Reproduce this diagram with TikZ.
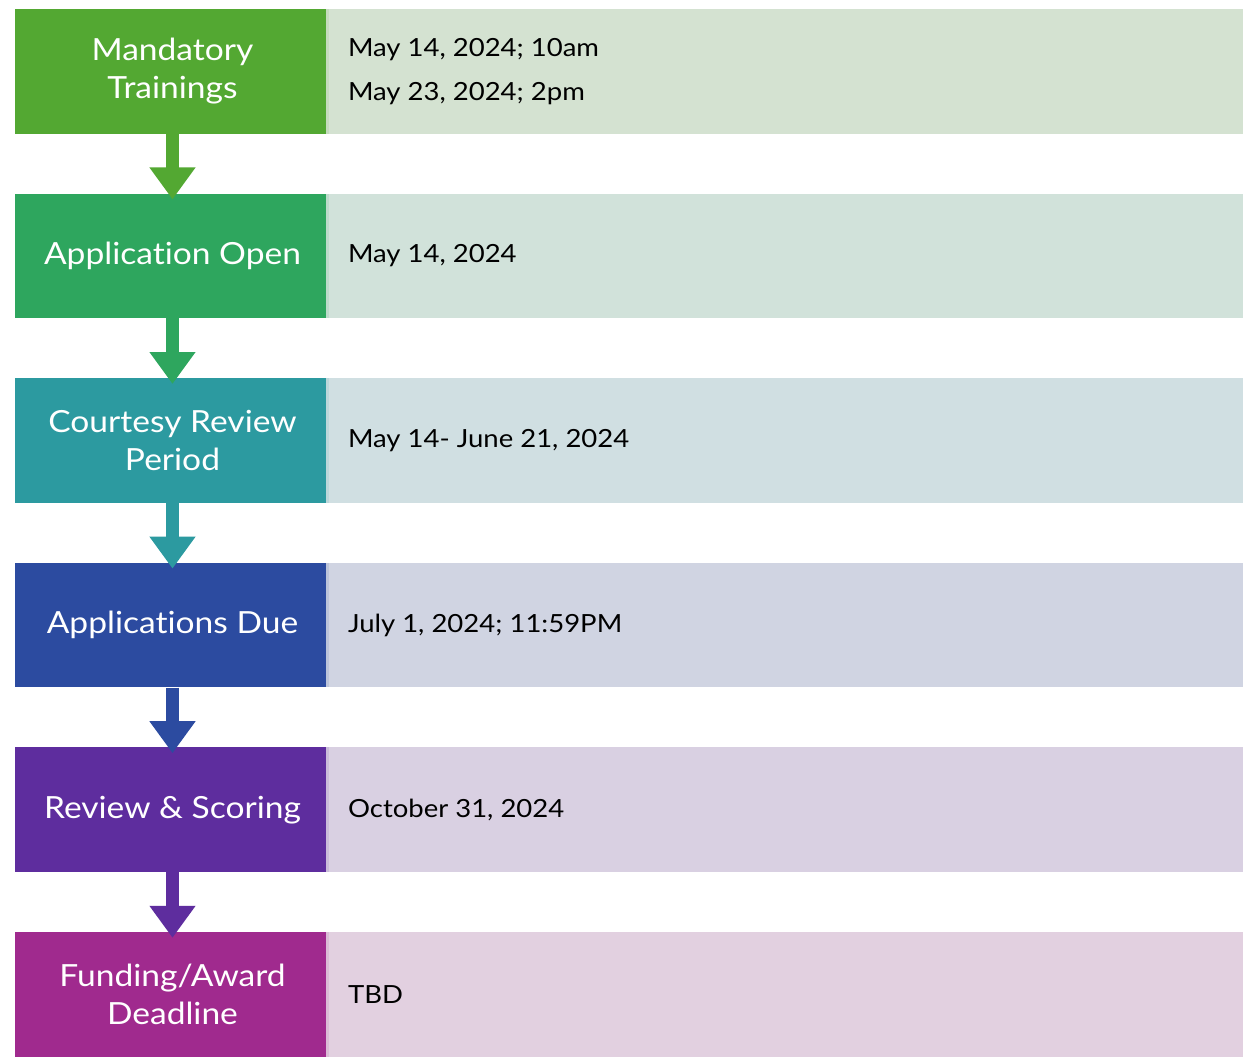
\documentclass[tikz,border=0pt]{standalone}
\usepackage{fontspec}
\setmainfont[FakeStretch=1.1,Ligatures=NoCommon]{Lato}
\usetikzlibrary{arrows.meta,calc}

\definecolor{stepA}{HTML}{53A832}
\definecolor{stepB}{HTML}{2EA65E}
\definecolor{stepC}{HTML}{2C9AA0}
\definecolor{stepD}{HTML}{2C4BA0}
\definecolor{stepE}{HTML}{5E2D9E}
\definecolor{stepF}{HTML}{A02A8E}
\definecolor{dateA}{HTML}{D4E2D1}
\definecolor{dateB}{HTML}{D1E2DA}
\definecolor{dateC}{HTML}{D0DFE2}
\definecolor{dateD}{HTML}{D0D4E2}
\definecolor{dateE}{HTML}{D9D0E2}
\definecolor{dateF}{HTML}{E2D0E0}

\tikzset{
  stepbox/.style={fill=#1, draw=none, minimum width=311pt, minimum height=124.6pt,
    inner sep=0pt},
  steptext/.style={align=center, text=white, inner sep=0pt,
    font=\fontsize{30.5}{37.5}\selectfont},
  datebox/.style={fill=#1, draw=none, minimum width=917pt, minimum height=124.6pt,
    inner sep=0pt},
  datetext/.style={anchor=west, inner sep=0pt, align=left, text=black,
    font=\fontsize{25}{44}\selectfont},
  edgestrip/.style={fill=#1, draw=none, minimum width=3pt, minimum height=124.6pt, inner sep=0pt},
  flow/.style={draw=#1, line width=13pt, -{Triangle[width=44pt,length=32pt]}}
}

\begin{document}
\begin{tikzpicture}[x=1pt,y=-1pt]
  \useasboundingbox[fill=white] (0,0) rectangle (1243,1057);

  % one row per milestone: coloured step, date panel
  \foreach \i/\c/\d in {0/stepA/dateA,1/stepB/dateB,2/stepC/dateC,3/stepD/dateD,4/stepE/dateE,5/stepF/dateF}{
    \pgfmathsetmacro{\yc}{9+184.6*\i+62.3}
    \node[datebox=\d] (d\i) at (784.5,\yc) {};
    \node[edgestrip=\d!88!\c] (e\i) at (327.5,\yc) {};
    \node[stepbox=\c] (s\i) at (170.5,\yc) {};
  }

  \node[steptext] (t0) at ($(s0)+(2,0)$) {Mandatory\\Trainings};
  \node[steptext] (t1) at ($(s1)+(2,0)$) {Application Open};
  \node[steptext] (t2) at ($(s2)+(2,0)$) {Courtesy Review\\Period};
  \node[steptext] (t3) at ($(s3)+(2,0)$) {Applications Due};
  \node[steptext] (t4) at ($(s4)+(2,0)$) {Review \& Scoring};
  \node[steptext] (t5) at ($(s5)+(2,0)$) {Funding/Award\\Deadline};

  \node[datetext] (r0) at ($(d0.west)+(22,0)$) {May 14, 2024; 10am\\May 23, 2024; 2pm};
  \node[datetext] (r1) at ($(d1.west)+(22,0)$) {May 14, 2024};
  \node[datetext] (r2) at ($(d2.west)+(22,0)$) {May 14- June 21, 2024};
  \node[datetext] (r3) at ($(d3.west)+(22,0)$) {July 1, 2024; 11:59PM};
  \node[datetext] (r4) at ($(d4.west)+(22,0)$) {October 31, 2024};
  \node[datetext] (r5) at ($(d5.west)+(22,0)$) {TBD};

  % arrows between consecutive steps
  \draw[flow=stepA] ($(s0.south)+(2,0)$) -- ($(s1.north)+(2,6)$);
  \draw[flow=stepB] ($(s1.south)+(2,0)$) -- ($(s2.north)+(2,6)$);
  \draw[flow=stepC] ($(s2.south)+(2,0)$) -- ($(s3.north)+(2,6)$);
  \draw[flow=stepD] ($(s3.south)+(2,0)$) -- ($(s4.north)+(2,6)$);
  \draw[flow=stepE] ($(s4.south)+(2,0)$) -- ($(s5.north)+(2,6)$);
\end{tikzpicture}
\end{document}
